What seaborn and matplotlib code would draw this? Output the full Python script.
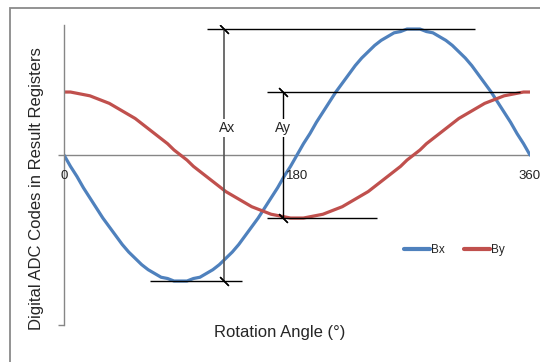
import numpy as np
import pandas as pd
import matplotlib
matplotlib.use("Agg")
import matplotlib.pyplot as plt
import seaborn as sns
from matplotlib.patches import Rectangle

# Angulo de rotacion (grados) y codigos ADC (unidades relativas)
angulo = list(range(0, 361, 5))
bx = [0.00, -0.09, -0.17, -0.26, -0.34, -0.42, -0.50, -0.57, -0.64, -0.71,
      -0.77, -0.82, -0.87, -0.91, -0.94, -0.97, -0.98, -1.00, -1.00,
      -1.00, -0.98, -0.97, -0.94, -0.91, -0.87, -0.82, -0.77, -0.71,
      -0.64, -0.57, -0.50, -0.42, -0.34, -0.26, -0.17, -0.09, 0.00,
      0.09, 0.17, 0.26, 0.34, 0.42, 0.50, 0.57, 0.64, 0.71,
      0.77, 0.82, 0.87, 0.91, 0.94, 0.97, 0.98, 1.00, 1.00,
      1.00, 0.98, 0.97, 0.94, 0.91, 0.87, 0.82, 0.77, 0.71,
      0.64, 0.57, 0.50, 0.42, 0.34, 0.26, 0.17, 0.09, 0.00]
by = [0.50, 0.50, 0.49, 0.48, 0.47, 0.45, 0.43, 0.41, 0.38, 0.35,
      0.32, 0.29, 0.25, 0.21, 0.17, 0.13, 0.09, 0.04, 0.00,
      -0.04, -0.09, -0.13, -0.17, -0.21, -0.25, -0.29, -0.32, -0.35,
      -0.38, -0.41, -0.43, -0.45, -0.47, -0.48, -0.49, -0.50, -0.50,
      -0.50, -0.49, -0.48, -0.47, -0.45, -0.43, -0.41, -0.38, -0.35,
      -0.32, -0.29, -0.25, -0.21, -0.17, -0.13, -0.09, -0.04, 0.00,
      0.04, 0.09, 0.13, 0.17, 0.21, 0.25, 0.29, 0.32, 0.35,
      0.38, 0.41, 0.43, 0.45, 0.47, 0.48, 0.49, 0.50, 0.50]
etiquetas_x = [0, 180, 360]

df = pd.DataFrame({"angulo": angulo, "Bx": bx, "By": by})

sns.set_style("white")
plt.rcParams["font.family"] = ["Liberation Sans", "DejaVu Sans"]

fig = plt.figure(figsize=(5.4, 3.62), dpi=100)
W, H = 540, 362
ax = fig.add_axes([64 / W, 1 - 325 / H, 466 / W, 300 / H])

azul = "#4F81BD"
rojo = "#C0504D"
gris = "#868686"

sns.lineplot(data=df, x="angulo", y="Bx", color=azul, lw=2.3, label="Bx", ax=ax)
sns.lineplot(data=df, x="angulo", y="By", color=rojo, lw=2.3, label="By", ax=ax)

ax.set_xlim(0, 360)
ax.set_ylim(-1.349, 1.032)
ax.axhline(0, color=gris, lw=1, zorder=0)

for s in ["top", "right", "bottom"]:
    ax.spines[s].set_visible(False)
ax.spines["left"].set_color(gris)
ax.spines["left"].set_linewidth(1)
ax.set_xticks([])
ax.set_yticks([0, -1.349])
ax.set_yticklabels([])
ax.tick_params(axis="y", direction="out", length=4, color=gris, width=1, left=True)
ax.set_xlabel("")
ax.set_ylabel("")

for v in etiquetas_x:
    ax.annotate(str(v), xy=(v, 0), xytext=(0, -21), textcoords="offset pixels",
                ha="center", va="center", fontsize=9.5, color="#222222",
                annotation_clip=False)

# Lineas de cota (amplitudes)
bx_max, bx_min = max(bx), min(bx)
by_max, by_min = max(by), min(by)
ax_x, ay_x = 123.6, 169.2
ax.hlines(bx_max, 110.5, 317.5, color="black", lw=1)
ax.hlines(bx_min, 66.4, 137.5, color="black", lw=1)
ax.vlines(ax_x, bx_min, bx_max, color="#555555", lw=1.2)
ax.hlines(by_max, 156.8, 352.3, color="black", lw=1)
ax.hlines(by_min, 156.8, 241.8, color="black", lw=1)
ax.vlines(ay_x, by_min, by_max, color="black", lw=1)
ax.plot([ax_x, ax_x], [bx_min, bx_max], ls="none", marker=(2, 2, 45),
        ms=9, mec="black", mew=0.9)
ax.plot([ay_x, ay_x], [by_min, by_max], ls="none", marker=(2, 2, 45),
        ms=9, mec="black", mew=0.9)
ax.text(ax_x + 2.5, 0.214, "Ax", ha="center", va="center", fontsize=10,
        bbox=dict(facecolor="white", edgecolor="none", pad=1.5))
ax.text(ay_x, 0.214, "Ay", ha="center", va="center", fontsize=10,
        bbox=dict(facecolor="white", edgecolor="none", pad=1.5))

leg = ax.legend(loc="center left", bbox_to_anchor=(398 / W, 1 - 250 / H),
                bbox_transform=fig.transFigure, ncol=2, frameon=False,
                fontsize=8.5, handlelength=2.2, handletextpad=0.1,
                columnspacing=1.6, borderpad=0)
for ln in leg.get_lines():
    ln.set_linewidth(3)

fig.text(37 / W, 1 - 189 / H, "Digital ADC Codes in Result Registers",
         rotation=90, ha="center", va="center", fontsize=12)
fig.text(280 / W, 1 - 333 / H, "Rotation Angle (°)", ha="center",
         va="center", fontsize=12)

fig.patches.append(Rectangle((10 / W, -0.1), 1.2, 1 - 7.5 / H + 0.1,
                             transform=fig.transFigure, fill=False,
                             edgecolor="#8a8a8a", lw=1.3))

fig.savefig("out.png", dpi=100)
